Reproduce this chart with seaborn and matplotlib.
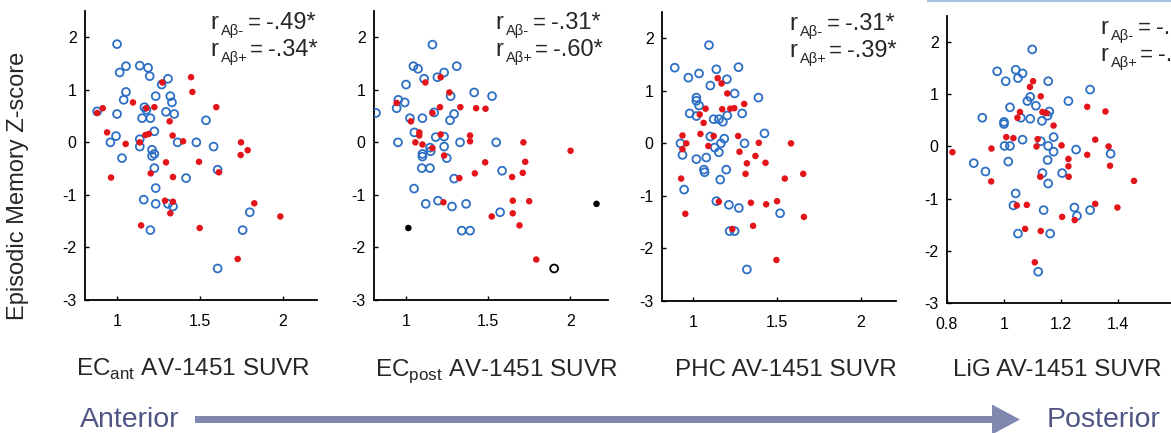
import matplotlib
matplotlib.use("Agg")
import matplotlib.pyplot as plt
import seaborn as sns
import pandas as pd
from matplotlib.patches import FancyArrow

# ---------------- data ----------------
# Panel 1: EC_ant
ec_ant_neg_x = [1.00, 1.016, 1.054, 1.137, 1.187, 1.197, 1.269, 1.307, 1.054, 1.04, 1.233, 1.321, 1.331,
                0.88, 1.00, 1.165, 1.177, 1.151, 1.201, 1.295, 1.345, 1.536, 0.994, 0.96, 1.137, 1.137,
                1.225, 1.03, 1.211, 1.225, 1.211, 1.225, 1.365, 1.478, 1.582, 1.606, 1.416, 1.233, 1.161,
                1.233, 1.307, 1.337, 1.201, 1.80, 1.757, 1.606]
ec_ant_neg_y = [1.87, 1.33, 1.45, 1.46, 1.42, 1.26, 1.10, 1.21, 0.96, 0.81, 0.88, 0.88, 0.76,
                0.59, 0.54, 0.67, 0.62, 0.46, 0.46, 0.58, 0.54, 0.42, 0.12, 0.0, 0.06, -0.08,
                0.21, -0.30, -0.14, -0.22, -0.26, -0.49, 0.0, 0.0, -0.08, -0.52, -0.68, -0.87, -1.09,
                -1.17, -1.17, -1.22, -1.67, -1.33, -1.67, -2.40]
ec_ant_pos_x = [0.88, 0.914, 1.096, 1.177, 1.225, 1.273, 1.446, 1.454, 1.598, 0.94, 1.052, 1.137, 1.171,
                1.191, 1.317, 1.335, 1.398, 0.964, 1.203, 1.295, 1.337, 1.494, 1.614, 1.747, 1.745,
                1.787, 1.289, 1.337, 1.321, 1.145, 1.498, 1.827, 1.984, 1.727]
ec_ant_pos_y = [0.56, 0.65, 0.76, 0.65, 0.67, 1.14, 1.24, 0.96, 0.67, 0.19, -0.03, 0.0, 0.14,
                0.16, 0.40, 0.13, 0.02, -0.67, -0.59, -0.38, -0.66, -0.37, -0.57, 0.0, -0.24,
                -0.15, -1.11, -1.13, -1.35, -1.58, -1.63, -1.16, -1.41, -2.22]

# Panel 2: EC_post
ec_post_neg_x = [0.817, 1.161, 1.045, 1.073, 1.110, 1.191, 1.232, 1.309, 1.00, 0.953, 0.943, 0.992,
                 1.024, 1.10, 1.171, 1.272, 1.293, 1.268, 1.415, 1.524, 1.051, 0.951, 1.10, 1.10,
                 1.15, 1.181, 1.232, 1.232, 1.248, 1.329, 1.549, 1.096, 1.146, 1.293, 1.585, 1.049,
                 1.12, 1.195, 1.28, 1.366, 1.339, 1.39, 1.573, 1.146]
ec_post_neg_y = [0.56, 1.86, 1.45, 1.40, 1.21, 1.24, 1.33, 1.45, 1.10, 0.81, 0.65, 0.76,
                 0.46, 0.46, 0.57, 0.88, 0.54, 0.42, 0.95, 0.88, 0.19, 0.0, -0.22, -0.27,
                 -0.17, 0.10, 0.11, -0.08, -0.30, 0.0, 0.0, -0.49, -0.49, -0.69, -0.54, -0.88,
                 -1.17, -1.11, -1.22, -1.17, -1.68, -1.68, -1.33, -0.10]
ec_post_pos_x = [0.943, 1.03, 1.118, 1.211, 1.264, 1.207, 1.331, 1.427, 1.484, 1.161, 1.081, 1.081,
                 1.057, 1.10, 1.161, 1.211, 1.232, 1.39, 1.39, 1.715, 2.002, 1.482, 1.726, 1.419,
                 1.325, 1.646, 1.711, 1.228, 1.65, 1.75, 1.65, 1.522, 1.691, 1.793]
ec_post_pos_y = [0.75, 0.40, 1.14, 1.24, 0.95, 0.67, 0.67, 0.65, 0.64, 0.56, 0.19, 0.13,
                 0.0, -0.04, -0.11, 0.15, -0.25, 0.13, 0.02, 0.0, -0.16, -0.38, -0.37, -0.59,
                 -0.68, -0.66, -0.58, -1.14, -1.11, -1.12, -1.35, -1.41, -1.58, -2.23]
ec_post_other_filled_x = [1.014, 2.16]
ec_post_other_filled_y = [-1.63, -1.17]
ec_post_other_open_x = [1.902]
ec_post_other_open_y = [-2.40]

# Panel 3: PHC
phc_neg_x = [0.891, 1.095, 0.972, 1.036, 1.139, 1.271, 1.202, 1.103, 1.248, 1.39, 1.02, 1.02, 1.036,
             0.98, 1.02, 1.123, 1.154, 1.178, 1.204, 1.293, 1.426, 0.925, 0.937, 1.02, 1.079, 1.103,
             1.129, 1.154, 1.166, 1.186, 1.307, 1.065, 1.069, 1.198, 1.162, 0.947, 1.139, 1.214,
             1.273, 1.519, 1.218, 1.248, 1.321]
phc_neg_y = [1.44, 1.87, 1.25, 1.33, 1.41, 1.45, 1.22, 1.10, 0.95, 0.87, 0.87, 0.81, 0.72,
             0.57, 0.52, 0.46, 0.46, 0.41, 0.53, 0.57, 0.19, 0.0, -0.22, -0.30, -0.27, 0.13,
             -0.08, -0.17, 0.0, 0.09, 0.0, -0.50, -0.55, -0.50, -0.69, -0.88, -1.10, -1.17,
             -1.23, -1.33, -1.67, -1.67, -2.40]
phc_pos_x = [1.147, 1.17, 1.204, 1.305, 1.075, 1.174, 1.222, 1.246, 1.04, 1.063, 1.044, 1.123, 1.269,
             0.937, 0.96, 1.091, 0.937, 1.277, 1.392, 1.584, 1.372, 1.321, 1.432, 1.313, 1.657,
             1.547, 0.929, 0.954, 1.154, 1.345, 1.436, 1.501, 1.661, 1.358, 1.234, 1.497]
phc_pos_y = [1.24, 1.14, 0.95, 0.75, 0.66, 0.65, 0.66, 0.67, 0.55, 0.39, 0.18, 0.14, 0.14,
             0.15, 0.0, -0.05, -0.11, -0.16, 0.01, 0.0, -0.24, -0.38, -0.37, -0.58, -0.58,
             -0.67, -0.67, -1.34, -1.11, -1.13, -1.16, -1.10, -1.40, -1.57, -1.63, -2.22]

# Panel 4: LiG
lig_neg_x = [1.099, 1.041, 0.976, 1.065, 1.049, 1.006, 1.155, 1.302, 1.092, 1.082, 1.226, 1.112, 1.021,
             1.159, 1.153, 0.924, 1.059, 1.092, 1.133, 1.00, 1.00, 1.174, 1.065, 1.129, 1.002, 1.021,
             1.155, 1.174, 1.253, 1.374, 0.894, 1.015, 1.153, 0.935, 1.135, 1.204, 1.155, 1.041,
             1.033, 1.139, 1.247, 1.256, 1.302, 1.049, 1.162, 1.12]
lig_neg_y = [1.86, 1.47, 1.44, 1.40, 1.31, 1.25, 1.25, 1.09, 0.95, 0.87, 0.87, 0.78, 0.75,
             0.67, 0.59, 0.55, 0.55, 0.53, 0.49, 0.47, 0.43, 0.18, 0.13, 0.10, 0.01, 0.01,
             0.01, -0.10, -0.06, -0.14, -0.32, -0.29, -0.26, -0.48, -0.51, -0.51, -0.71, -0.90,
             -1.13, -1.22, -1.17, -1.33, -1.22, -1.67, -1.67, -2.40]
lig_pos_x = [1.102, 1.091, 1.129, 1.135, 1.149, 1.292, 1.356, 1.056, 1.047, 1.174, 1.008, 1.033, 1.118,
             1.32, 1.114, 1.202, 1.367, 0.956, 0.819, 1.226, 1.292, 1.226, 1.372, 1.227, 1.127,
             0.955, 1.456, 1.045, 1.08, 1.32, 1.398, 1.204, 1.248, 1.074, 1.129, 1.108]
lig_pos_y = [1.25, 1.14, 0.96, 0.66, 0.64, 0.76, 0.67, 0.66, 0.55, 0.40, 0.18, 0.16, 0.14,
             0.13, 0.0, 0.02, 0.0, -0.04, -0.11, -0.24, -0.16, -0.38, -0.37, -0.58, -0.58,
             -0.67, -0.66, -1.13, -1.12, -1.10, -1.17, -1.35, -1.41, -1.58, -1.62, -2.22]

r_neg = ["-.49*", "-.31*", "-.31*", "-.31*"]
r_pos = ["-.34*", "-.60*", "-.39*", "-.39*"]
sub_neg = "Aβ-"
sub_pos = "Aβ+"
region_labels = [r"EC$_{\mathregular{ant}}$ AV-1451 SUVR", r"EC$_{\mathregular{post}}$ AV-1451 SUVR",
                 "PHC AV-1451 SUVR", "LiG AV-1451 SUVR"]
x_ticks = [[1, 1.5, 2], [1, 1.5, 2], [1, 1.5, 2], [0.8, 1, 1.2, 1.4]]
x_ticklabels = [["1", "1.5", "2"], ["1", "1.5", "2"], ["1", "1.5", "2"], ["0.8", "1", "1.2", "1.4"]]
y_ticks = [-3, -2, -1, 0, 1, 2]
y_label = "Episodic Memory Z-score"

# ---------------- style ----------------
sns.set_theme(style="ticks")
plt.rcParams["font.family"] = ["Liberation Sans", "DejaVu Sans"]
plt.rcParams["axes.unicode_minus"] = False
plt.rcParams["mathtext.fontset"] = "custom"
plt.rcParams["mathtext.rm"] = "Liberation Sans"

BLUE = "#2c6fc4"
RED = "#e3151b"
W, H = 1171, 433
fig = plt.figure(figsize=(W / 100, H / 100), dpi=100)

# axes boxes in pixels: (left, right, top, bottom), xlim
boxes = [(85, 317, 11, 300, (0.807, 2.205)),
         (374, 608, 11, 300, (0.805, 2.23)),
         (662, 896, 12, 301, (0.815, 2.21)),
         (947, 1175, 16, 303, (0.80, 1.60))]

panels = [
    (ec_ant_neg_x, ec_ant_neg_y, ec_ant_pos_x, ec_ant_pos_y),
    (ec_post_neg_x, ec_post_neg_y, ec_post_pos_x, ec_post_pos_y),
    (phc_neg_x, phc_neg_y, phc_pos_x, phc_pos_y),
    (lig_neg_x, lig_neg_y, lig_pos_x, lig_pos_y),
]

for i, ((l, r, t, b, xl), (nx, ny, px, py)) in enumerate(zip(boxes, panels)):
    ax = fig.add_axes([l / W, 1 - b / H, (r - l) / W, (b - t) / H])
    neg = pd.DataFrame({"x": nx, "y": ny})
    pos = pd.DataFrame({"x": px, "y": py})
    sns.scatterplot(data=neg, x="x", y="y", ax=ax, s=32, facecolors="none",
                    edgecolor=BLUE, linewidth=1.3, zorder=3)
    sns.scatterplot(data=pos, x="x", y="y", ax=ax, s=22, color=RED,
                    edgecolor="none", linewidth=0, zorder=4)
    if i == 1:
        of = pd.DataFrame({"x": ec_post_other_filled_x, "y": ec_post_other_filled_y})
        oo = pd.DataFrame({"x": ec_post_other_open_x, "y": ec_post_other_open_y})
        sns.scatterplot(data=of, x="x", y="y", ax=ax, s=22, color="black",
                        edgecolor="none", linewidth=0, zorder=4)
        sns.scatterplot(data=oo, x="x", y="y", ax=ax, s=32, facecolors="none",
                        edgecolor="black", linewidth=1.3, zorder=4)
    ax.set_xlim(*xl)
    ax.set_ylim(-3, 2.5)
    ax.set_xticks(x_ticks[i])
    ax.set_xticklabels(x_ticklabels[i])
    ax.set_yticks(y_ticks)
    ax.set_yticklabels([str(v) for v in y_ticks])
    ax.set_xlabel("")
    ax.set_ylabel("")
    for s in ["top", "right"]:
        ax.spines[s].set_visible(False)
    for s in ["left", "bottom"]:
        ax.spines[s].set_linewidth(1.3)
        ax.spines[s].set_color("black")
    ax.tick_params(direction="in", length=3, width=1.0, labelsize=11.5, colors="black")
    ax.tick_params(axis="x", pad=10)
    ax.tick_params(axis="y", pad=6)
    ax.set_facecolor("none")

# overlay for annotations (pixel coordinates)
ov = fig.add_axes([0, 0, 1, 1], zorder=10)
ov.set_xlim(0, W)
ov.set_ylim(H, 0)
ov.axis("off")

r_left = [210, 495, 789, 1100]
r_base = [29, 29, 30, 34]
for i in range(4):
    L, B = r_left[i], r_base[i]
    for k, (sub, val, eq_dx) in enumerate([(sub_neg, r_neg[i], 38), (sub_pos, r_pos[i], 40)]):
        b = B + 27 * k
        ov.text(L, b, "r", fontsize=17, va="baseline", ha="left")
        ov.text(L + 11, b + 6, sub, fontsize=10.5, va="baseline", ha="left")
        ov.text(L + eq_dx, b, "=", fontsize=16, va="baseline", ha="left")
        ov.text(L + eq_dx + 18, b, val, fontsize=17, va="baseline", ha="left")

label_cx = [193, 496, 786, 1057]
for i in range(4):
    ov.text(label_cx[i], 376, region_labels[i], fontsize=17.5, ha="center", va="baseline")

ov.text(18, 186, y_label, fontsize=17, rotation=90, ha="center", va="center")

TXT = "#4f5584"
ARR = "#8088b0"
ov.text(80, 427, "Anterior", fontsize=20.5, color=TXT, ha="left", va="baseline")
ov.text(1047, 427, "Posterior", fontsize=20.5, color=TXT, ha="left", va="baseline")
ov.add_patch(FancyArrow(195, 419.5, 825, 0, width=7, head_width=30, head_length=28,
                        length_includes_head=True, color=ARR, lw=0))
ov.plot([927, 1171], [0.8, 0.8], color="#a9c3e6", lw=1.6, solid_capstyle="butt")

fig.savefig("out.png", dpi=100)
